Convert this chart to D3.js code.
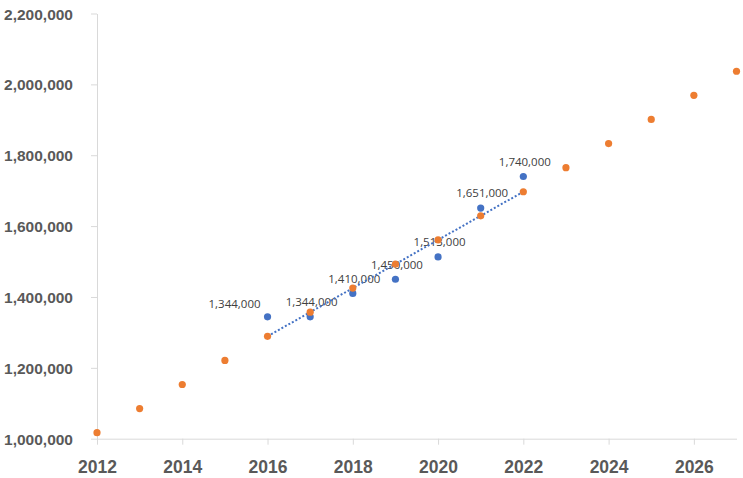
<!DOCTYPE html>
<html>
<head>
<meta charset="utf-8">
<script src="https://cdn.jsdelivr.net/npm/d3@7"></script>
<style>
  html, body { margin: 0; padding: 0; background: #fff; }
  svg { display: block; font-family: "Open Sans", sans-serif; }
</style>
</head>
<body>
<div id="chart"></div>
<script>
// actual vs linear trend, 2012-2027
const actualYears = [2016, 2017, 2018, 2019, 2020, 2021, 2022];
const actualValues = [1344000, 1344000, 1410000, 1450000, 1513000, 1651000, 1740000];

const trendYears = [2012, 2013, 2014, 2015, 2016, 2017, 2018, 2019, 2020, 2021, 2022, 2023, 2024, 2025, 2026, 2027];
const trendValues = [1017000, 1085000, 1153000, 1221000, 1289000, 1357000, 1425000, 1493000,
  1561000, 1629000, 1697000, 1765000, 1833000, 1901000, 1969000, 2037000];

const xTicks = [2012, 2014, 2016, 2018, 2020, 2022, 2024, 2026];
const yTicks = [1000000, 1200000, 1400000, 1600000, 1800000, 2000000, 2200000];

// first label sits to the left of its point, the rest above
const labelSide = ['left', 'above', 'above', 'above', 'above', 'above', 'above'];

(function() {
  const width = 743, height = 478;
  const blue = '#4472C4', orange = '#ED7D31';
  const axisColor = '#d9d9d9', tickText = '#595959';

  const svg = d3.select('#chart')
    .append('svg')
    .attr('width', width)
    .attr('height', height);

  const x = d3.scaleLinear().domain([2012, 2027]).range([97, 736.5]);
  const y = d3.scaleLinear().domain([1000000, 2200000]).range([438.7, 13.5]);

  // y axis
  const yAxis = svg.append('g')
    .attr('transform', `translate(${x(2012)},0)`)
    .call(d3.axisLeft(y).tickValues(yTicks).tickFormat(d3.format(',')).tickSize(6).tickSizeOuter(0));
  yAxis.select('.domain').attr('stroke', axisColor);
  yAxis.selectAll('.tick line').attr('stroke', axisColor);
  yAxis.selectAll('.tick text')
    .attr('x', -24)
    .attr('dy', '0.36em')
    .attr('fill', tickText)
    .style('font-size', '15.5px')
    .style('font-weight', 'bold');

  // x axis
  const xAxis = svg.append('g')
    .attr('transform', `translate(0,${y(1000000)})`)
    .call(d3.axisBottom(x).tickValues(xTicks).tickFormat(d3.format('d')).tickSize(6).tickSizeOuter(0));
  xAxis.select('.domain').attr('stroke', axisColor);
  xAxis.selectAll('.tick line').attr('stroke', axisColor);
  xAxis.selectAll('.tick text')
    .attr('y', 34)
    .attr('dy', 0)
    .attr('fill', tickText)
    .style('font-size', '17.5px')
    .style('font-weight', 'bold');

  // actual points
  svg.append('g')
    .selectAll('circle')
    .data(actualYears)
    .join('circle')
    .attr('cx', d => x(d))
    .attr('cy', (d, i) => y(actualValues[i]))
    .attr('r', 3.6)
    .attr('fill', blue);

  // data labels
  svg.append('g')
    .selectAll('text')
    .data(actualYears)
    .join('text')
    .attr('x', (d, i) => labelSide[i] === 'left' ? x(d) - 7 : x(d) + 1.5)
    .attr('y', (d, i) => y(actualValues[i]) + (labelSide[i] === 'left' ? -8.4 : -10.6))
    .attr('text-anchor', (d, i) => labelSide[i] === 'left' ? 'end' : 'middle')
    .attr('fill', '#404040')
    .style('font-size', '11.5px')
    .text((d, i) => d3.format(',')(actualValues[i]));

  // dotted trendline over the actual range
  const trendSpan = trendYears
    .map((yr, i) => [yr, trendValues[i]])
    .filter(d => d[0] >= actualYears[0] && d[0] <= actualYears[actualYears.length - 1]);

  svg.append('path')
    .datum(trendSpan)
    .attr('d', d3.line().x(d => x(d[0])).y(d => y(d[1])))
    .attr('fill', 'none')
    .attr('stroke', blue)
    .attr('stroke-width', 2)
    .attr('stroke-dasharray', '2,2');

  // trend points
  svg.append('g')
    .selectAll('circle')
    .data(trendYears)
    .join('circle')
    .attr('cx', d => x(d))
    .attr('cy', (d, i) => y(trendValues[i]))
    .attr('r', 3.6)
    .attr('fill', orange);
})();
</script>
</body>
</html>
